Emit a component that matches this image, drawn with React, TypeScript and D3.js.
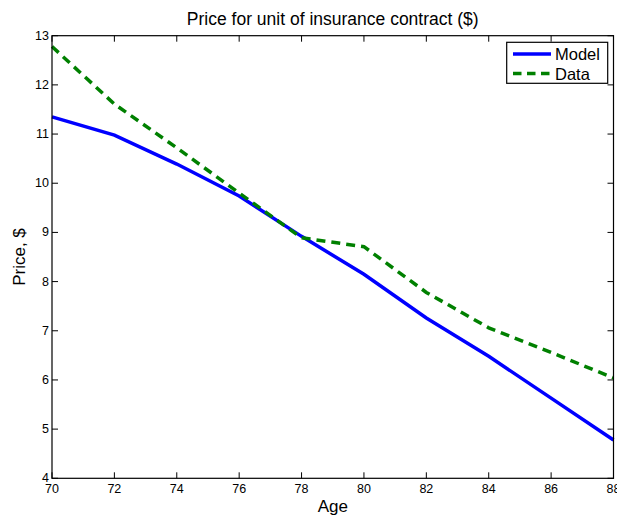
import React, { useEffect, useRef } from "react";
import * as d3 from "d3";

const ages = [70, 72, 74, 76, 78, 80, 82, 84, 86, 88];
const modelPrice = [11.35, 10.98, 10.39, 9.74, 8.92, 8.15, 7.26, 6.48, 5.63, 4.78];
const dataPrice = [12.78, 11.61, 10.72, 9.8, 8.89, 8.71, 7.78, 7.06, 6.56, 6.04];
const xTicks = [70, 72, 74, 76, 78, 80, 82, 84, 86, 88];
const yTicks = [4, 5, 6, 7, 8, 9, 10, 11, 12, 13];

const W = 617;
const H = 515;
const left = 52;
const right = 613.5;
const top = 35.7;
const bottom = 478.3;
const font = "Liberation Sans, Arial, Helvetica, sans-serif";

export default function App() {
  const ref = useRef<SVGSVGElement>(null);

  useEffect(() => {
    const svg = d3.select(ref.current);
    svg.selectAll("*").remove();

    const x = d3.scaleLinear().domain([70, 88]).range([left, right]);
    const y = d3.scaleLinear().domain([4, 13]).range([bottom, top]);
    const tick = 6;

    svg.append("rect").attr("width", W).attr("height", H).attr("fill", "#fff");

    // ticks on all four sides, pointing in
    const g = svg.append("g").attr("stroke", "#000").attr("stroke-width", 1);
    xTicks.forEach((t) => {
      g.append("line").attr("x1", x(t)).attr("x2", x(t)).attr("y1", bottom).attr("y2", bottom - tick);
      g.append("line").attr("x1", x(t)).attr("x2", x(t)).attr("y1", top).attr("y2", top + tick);
    });
    yTicks.forEach((t) => {
      g.append("line").attr("x1", left).attr("x2", left + tick).attr("y1", y(t)).attr("y2", y(t));
      g.append("line").attr("x1", right).attr("x2", right - tick).attr("y1", y(t)).attr("y2", y(t));
    });

    const line = d3
      .line<number>()
      .x((d, i) => x(ages[i]))
      .y((d) => y(d));

    svg
      .append("path")
      .datum(modelPrice)
      .attr("d", line)
      .attr("fill", "none")
      .attr("stroke", "#0000ff")
      .attr("stroke-width", 3.5);

    svg
      .append("path")
      .datum(dataPrice)
      .attr("d", line)
      .attr("fill", "none")
      .attr("stroke", "#008000")
      .attr("stroke-width", 3.5)
      .attr("stroke-dasharray", "9,6");

    svg
      .append("rect")
      .attr("x", left)
      .attr("y", top)
      .attr("width", right - left)
      .attr("height", bottom - top)
      .attr("fill", "none")
      .attr("stroke", "#000")
      .attr("stroke-width", 1.2);

    const txt = svg.append("g").attr("font-family", font).attr("fill", "#000");

    xTicks.forEach((t) => {
      txt.append("text").attr("x", x(t)).attr("y", bottom + 15).attr("text-anchor", "middle")
        .attr("font-size", 12.5).text(t);
    });
    yTicks.forEach((t) => {
      txt.append("text").attr("x", left - 3).attr("y", y(t) + 4).attr("text-anchor", "end")
        .attr("font-size", 12.5).text(t);
    });

    txt.append("text").attr("x", (left + right) / 2).attr("y", 25).attr("text-anchor", "middle")
      .attr("font-size", 17.5).text("Price for unit of insurance contract ($)");
    txt.append("text").attr("x", (left + right) / 2).attr("y", 512).attr("text-anchor", "middle")
      .attr("font-size", 17).text("Age");
    txt.append("text")
      .attr("transform", `translate(25,${(top + bottom) / 2}) rotate(-90)`)
      .attr("text-anchor", "middle")
      .attr("font-size", 17)
      .text("Price, $");

    // legend
    const lg = svg.append("g");
    lg.append("rect").attr("x", 506.7).attr("y", 42.3).attr("width", 101).attr("height", 41)
      .attr("fill", "#fff").attr("stroke", "#000").attr("stroke-width", 1.2);
    const items = [
      { name: "Model", color: "#0000ff", dash: null },
      { name: "Data", color: "#008000", dash: "8.5,5.5" },
    ];
    items.forEach((it, i) => {
      const ly = 54 + i * 19.5;
      lg.append("line").attr("x1", 513).attr("x2", 551).attr("y1", ly).attr("y2", ly)
        .attr("stroke", it.color).attr("stroke-width", 3.5)
        .attr("stroke-dasharray", it.dash);
      lg.append("text").attr("x", 555).attr("y", ly + 6).attr("font-family", font)
        .attr("font-size", 16.5).text(it.name);
    });
  }, []);

  return (
    <svg
      ref={ref}
      width={W}
      height={H}
      style={{ position: "absolute", left: 0, top: 0 }}
    />
  );
}
